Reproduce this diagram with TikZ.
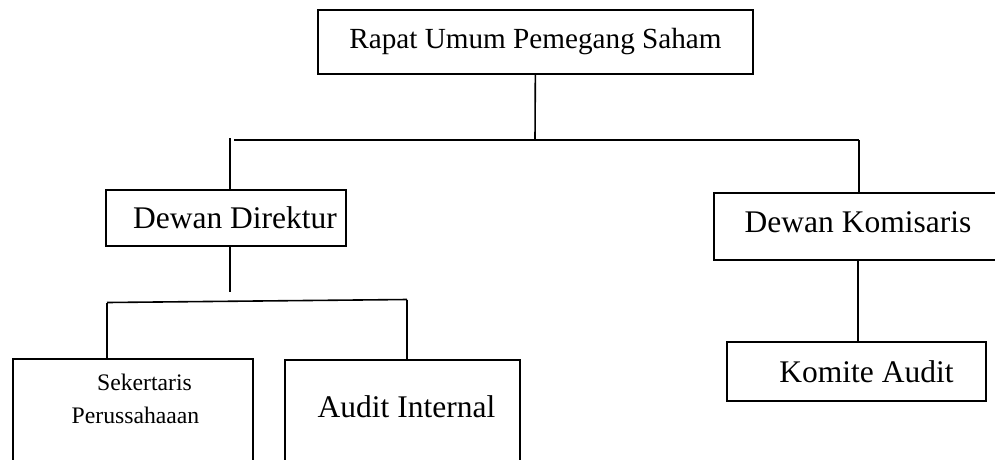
\documentclass[tikz,border=0pt]{standalone}
\usepackage{fontspec}
\setmainfont{Liberation Serif}
\begin{document}
\begin{tikzpicture}[x=1pt,y=-1pt,
        unit/.style={draw, line width=1.6pt, font=\fontsize{31.5}{36}\selectfont},
        line width=1.6pt]
            \useasboundingbox (0,0) rectangle (995,459);
            \clip (0,0) rectangle (995,459);

            \node[
                unit,
                minimum width=435,
                minimum height=64,
                font=\fontsize{29.2}{34}\selectfont,
                name=rups
            ] at (535.5,42) {Rapat Umum Pemegang Saham};
            \node[
                unit,
                minimum width=240,
                minimum height=56,
                name=dir
            ] at (226,218) {\hspace*{18pt}Dewan Direktur};
            \node[
                unit,
                minimum width=288,
                inner ysep=0,
                text height=40,
                text depth=27,
                anchor=north,
                name=kom
            ] at (858,192) {Dewan Komisaris};
            \node[
                unit,
                minimum width=259,
                minimum height=59,
                name=komite
            ] at (856.5,371.5) {\hspace*{20pt}Komite Audit};
            \node[
                unit,
                minimum width=240,
                inner ysep=0,
                text height=65,
                text depth=60,
                align=center,
                font=\fontsize{23.7}{33}\selectfont,
                anchor=north,
                name=sek
            ] at (133,358) {\hspace*{23pt}Sekertaris\\\hspace*{5pt}Perussahaaan};
            \node[
                unit,
                minimum width=235,
                inner ysep=0,
                text height=58,
                text depth=60,
                anchor=north,
                name=aud
            ] at (402.5,359) {\hspace*{8pt}Audit Internal};

            \coordinate (top) at (535,140);
            \coordinate (topL) at (234,140);
            \coordinate (topR) at (859,140);
            \coordinate (dirIn) at (230,138);
            \coordinate (dirOut) at (230,292);
            \coordinate (botL) at (107,302.5);
            \coordinate (botR) at (407,299.5);

            \draw (rups) -- (top);
            \draw (topL) -- (topR);

            \draw (dirIn) -- (dirIn |- dir.north);
            \draw (topR) -- (topR |- kom.north);

            \draw (dir.south -| dirOut) -- (dirOut);
            \draw (botL) -- (botR);
            \draw (botL) -- (botL |- sek.north);
            \draw (botR) -- (botR |- aud.north);

            \draw (kom.south) -- (kom.south |- komite.north);
        \end{tikzpicture}
\end{document}
